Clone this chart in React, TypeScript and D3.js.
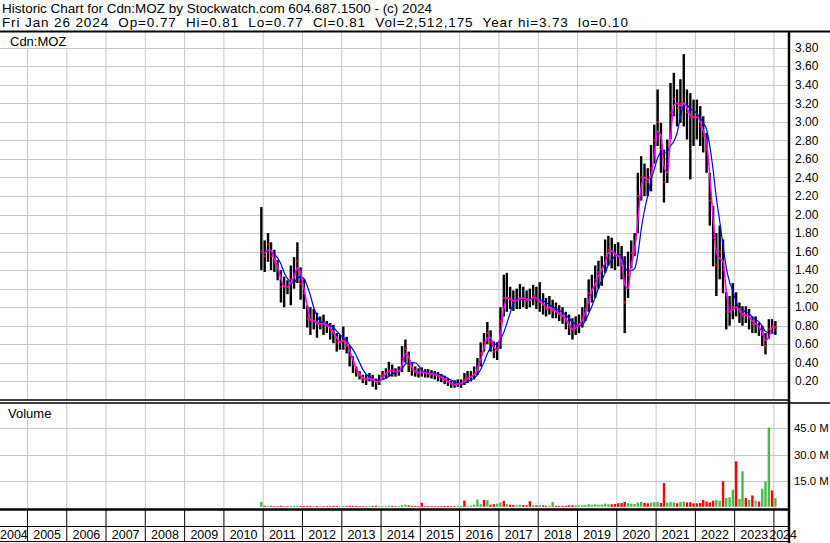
import React from "react";
import * as d3 from "d3";

// ---- data (monthly, Dec 2010 .. Jan 2024) ----
const startYear = 2010;
const startMonth = 11; // December

const highs = [
  2.08,
  1.72, 1.80, 1.70, 1.62, 1.51, 1.40, 1.33, 1.29, 1.45, 1.54, 1.70, 1.43,
  1.30, 1.02, 1.00, 0.98, 0.94, 0.90, 0.92, 0.85, 0.83, 0.81, 0.72, 0.70,
  0.79, 0.68, 0.58, 0.47, 0.36, 0.31, 0.27, 0.27, 0.29, 0.27, 0.23, 0.27,
  0.31, 0.34, 0.41, 0.38, 0.34, 0.36, 0.58, 0.65, 0.52, 0.40, 0.36, 0.34,
  0.35, 0.33, 0.33, 0.32, 0.31, 0.30, 0.28, 0.26, 0.23, 0.21, 0.21, 0.22,
  0.22, 0.29, 0.31, 0.31, 0.36, 0.45, 0.62, 0.72, 0.84, 0.75, 0.63, 0.62,
  1.00, 1.35, 1.37, 1.22, 1.18, 1.20, 1.25, 1.22, 1.18, 1.20, 1.24, 1.22,
  1.27, 1.15, 1.10, 1.12, 1.08, 1.05, 1.02, 1.00, 0.95, 0.92, 0.88, 0.90,
  0.92, 1.00, 1.10, 1.30, 1.35, 1.45, 1.50, 1.55, 1.73, 1.77, 1.75, 1.68,
  1.70, 1.66, 1.55, 1.60, 1.72, 1.80, 2.45, 2.63, 2.55, 2.50, 2.75, 2.97,
  3.35, 2.99, 2.70, 2.81, 3.42, 3.53, 3.35, 3.46, 3.73, 3.35, 3.31, 3.24,
  3.24, 3.17, 3.06, 2.88, 2.45, 2.09, 1.80, 1.88, 1.73, 1.16, 1.12, 1.26,
  1.16, 1.05, 1.01, 1.01, 0.98, 0.90, 0.90, 0.83, 0.80, 0.72, 0.87, 0.87,
  0.85,
];

const lows = [
  1.40,
  1.38, 1.49, 1.40, 1.38, 1.29, 1.05, 1.00, 1.14, 1.02, 1.20, 1.26, 1.08,
  0.98, 0.78, 0.70, 0.76, 0.67, 0.76, 0.70, 0.72, 0.65, 0.61, 0.52, 0.54,
  0.54, 0.50, 0.36, 0.29, 0.25, 0.22, 0.18, 0.16, 0.20, 0.14, 0.11, 0.16,
  0.22, 0.23, 0.25, 0.25, 0.25, 0.26, 0.30, 0.40, 0.30, 0.26, 0.25, 0.24,
  0.25, 0.24, 0.24, 0.23, 0.22, 0.20, 0.19, 0.17, 0.15, 0.13, 0.13, 0.14,
  0.13, 0.16, 0.18, 0.20, 0.22, 0.27, 0.36, 0.52, 0.60, 0.52, 0.45, 0.43,
  0.55, 0.90, 0.95, 0.98, 0.96, 0.98, 0.98, 1.00, 0.98, 1.00, 1.02, 0.98,
  0.95, 0.92, 0.90, 0.92, 0.88, 0.88, 0.85, 0.82, 0.76, 0.70, 0.65, 0.70,
  0.72, 0.78, 0.85, 0.95, 1.05, 1.10, 1.20, 1.23, 1.37, 1.45, 1.42, 1.40,
  1.44, 1.30, 0.72, 1.10, 1.42, 1.55, 1.80, 2.15, 2.20, 2.20, 2.25, 2.55,
  2.74, 2.45, 2.13, 2.34, 2.81, 3.06, 2.95, 2.99, 2.95, 2.81, 2.38, 2.74,
  2.81, 2.74, 2.67, 2.45, 1.88, 1.44, 1.12, 1.30, 1.15, 0.76, 0.80, 0.87,
  0.90, 0.83, 0.80, 0.83, 0.76, 0.72, 0.72, 0.69, 0.58, 0.49, 0.66, 0.72,
  0.70,
];

const closes = [
  1.60,
  1.55, 1.68, 1.55, 1.48, 1.40, 1.22, 1.22, 1.22, 1.30, 1.35, 1.50, 1.25,
  1.15, 0.88, 0.85, 0.85, 0.82, 0.82, 0.82, 0.80, 0.75, 0.72, 0.62, 0.62,
  0.65, 0.58, 0.48, 0.38, 0.30, 0.26, 0.22, 0.22, 0.24, 0.21, 0.18, 0.21,
  0.27, 0.29, 0.32, 0.31, 0.30, 0.31, 0.45, 0.55, 0.38, 0.32, 0.30, 0.29,
  0.30, 0.29, 0.28, 0.28, 0.27, 0.25, 0.24, 0.21, 0.19, 0.17, 0.16, 0.18,
  0.17, 0.22, 0.24, 0.25, 0.29, 0.36, 0.50, 0.62, 0.72, 0.62, 0.52, 0.55,
  0.85, 1.10, 1.10, 1.08, 1.06, 1.08, 1.10, 1.10, 1.07, 1.08, 1.12, 1.08,
  1.05, 1.02, 0.98, 1.00, 0.96, 0.95, 0.92, 0.90, 0.85, 0.78, 0.75, 0.80,
  0.82, 0.90, 0.98, 1.15, 1.20, 1.30, 1.38, 1.42, 1.55, 1.62, 1.60, 1.55,
  1.55, 1.45, 1.05, 1.35, 1.58, 1.65, 2.20, 2.40, 2.40, 2.35, 2.50, 2.80,
  3.00, 2.70, 2.35, 2.55, 3.10, 3.25, 3.15, 3.20, 3.20, 3.10, 3.05, 3.05,
  3.05, 2.95, 2.85, 2.70, 2.15, 1.75, 1.45, 1.60, 1.40, 0.95, 0.95, 1.00,
  1.00, 0.95, 0.90, 0.92, 0.88, 0.82, 0.82, 0.76, 0.70, 0.58, 0.76, 0.80,
  0.78,
];

// volume in millions
const volumes = [
  2.9,
  0.6, 0.5, 0.5, 0.4, 0.4, 0.6, 0.4, 0.4, 0.6, 0.6, 0.7, 0.5,
  0.5, 0.6, 0.5, 0.4, 0.5, 0.4, 0.4, 0.4, 0.4, 0.5, 0.5, 0.4,
  0.5, 0.5, 0.6, 0.6, 0.5, 0.4, 0.4, 0.5, 0.4, 0.5, 0.6, 0.4,
  0.4, 0.4, 0.7, 0.5, 0.4, 0.5, 1.0, 1.2, 0.8, 0.5, 0.4, 0.4,
  2.3, 0.4, 0.4, 0.5, 0.4, 0.4, 0.4, 0.5, 0.5, 0.4, 0.4, 0.5,
  0.6, 3.6, 0.6, 0.7, 1.2, 4.2, 1.5, 4.0, 3.8, 1.2, 1.5, 1.8,
  2.5, 3.4, 1.5, 1.2, 1.0, 0.8, 1.2, 1.0, 0.8, 3.2, 1.0, 0.8,
  1.0, 0.8, 0.6, 0.7, 2.7, 0.6, 0.5, 0.5, 0.6, 0.8, 0.9, 0.8,
  0.8, 0.9, 1.0, 1.5, 1.2, 1.4, 1.2, 1.3, 1.8, 1.5, 1.4, 1.6,
  2.0, 2.2, 2.8, 2.0, 1.8, 1.6, 2.5, 2.8, 2.2, 2.0, 2.4, 2.6,
  2.8, 2.2, 13.6, 2.4, 2.8, 2.5, 2.0, 2.8, 3.0, 2.5, 2.6, 2.0,
  2.0, 2.2, 4.0, 3.0, 2.5, 3.5, 4.0, 3.5, 14.6, 5.0, 5.5, 9.8,
  26.1, 4.5, 20.4, 5.0, 4.0, 6.5, 3.6, 3.0, 10.4, 14.6, 45.6, 9.4,
  5.0,
];

// 1 = up (green), -1 = down (red), 0 = unchanged (grey)
const volDir = [
  1,
  -1, 1, -1, -1, -1, -1, 1, -1, 1, 1, 1, -1,
  -1, -1, -1, 1, -1, 1, -1, -1, -1, -1, -1, 1,
  1, -1, -1, -1, -1, -1, -1, 1, 1, -1, -1, 1,
  1, 1, 1, -1, -1, 1, 1, 1, -1, -1, -1, -1,
  -1, -1, -1, -1, -1, -1, -1, -1, -1, -1, -1, 1,
  1, -1, 1, 1, 1, 1, 1, -1, 1, -1, -1, 1,
  1, -1, 1, -1, -1, 1, 1, -1, -1, -1, 1, -1,
  1, -1, -1, 1, 1, -1, -1, -1, -1, -1, -1, 1,
  1, 1, 1, 1, 1, 1, 1, 1, 1, 1, -1, -1,
  -1, -1, -1, 1, 1, 1, 1, 1, -1, -1, 1, 1,
  1, -1, -1, 1, 1, 1, -1, 1, 1, -1, -1, -1,
  -1, -1, -1, -1, -1, -1, 1, 1, -1, 1, 1, 1,
  -1, 1, 1, -1, 1, -1, 0, -1, 1, 1, 1, -1,
  1,
];

const priceTicks = [3.8, 3.6, 3.4, 3.2, 3.0, 2.8, 2.6, 2.4, 2.2, 2.0, 1.8, 1.6, 1.4, 1.2, 1.0, 0.8, 0.6, 0.4, 0.2];
const volTicks = [15, 30, 45];
const yearLabels = [2004, 2005, 2006, 2007, 2008, 2009, 2010, 2011, 2012, 2013, 2014, 2015, 2016, 2017, 2018, 2019, 2020, 2021, 2022, 2023, 2024];

const headerLine1 = "Historic Chart for Cdn:MOZ by Stockwatch.com 604.687.1500 - (c) 2024";
const headerLine2 = "Fri Jan 26 2024  Op=0.77  Hi=0.81  Lo=0.77  Cl=0.81  Vol=2,512,175  Year hi=3.73  lo=0.10";
const symbol = "Cdn:MOZ";

// ---- layout ----
const W = 830;
const H = 543;
const PLOT_R = 789;
const P_TOP = 32;
const P_BOT = 400;
const V_TOP = 403;
const V_BOT = 509.5;
const FONT = "'Liberation Sans', Arial, sans-serif";
const YEAR_LABEL_W = 27.8;

export default function App() {
  const x = d3
    .scaleTime()
    .domain([new Date(2005, 0, 1), new Date(2024, 0, 1)])
    .range([27.5, 773.9]);
  const y = d3.scaleLinear().domain([0, 3.97]).range([399.8, 32]);
  const yv = d3.scaleLinear().domain([0, 15]).range([506.8, 480.7]);

  const bars = highs.map((h, i) => {
    const date = new Date(startYear, startMonth + i, 15);
    return { date, h, l: lows[i], c: closes[i], v: volumes[i], d: volDir[i], i };
  });

  const ma = (n: number) =>
    bars
      .filter((b) => b.i >= n - 1)
      .map((b) => ({
        date: b.date,
        v: d3.mean(closes.slice(b.i - n + 1, b.i + 1)) as number,
      }));
  const maShort = ma(2);
  const maLong = ma(5);
  const line = d3
    .line<{ date: Date; v: number }>()
    .x((d) => x(d.date))
    .y((d) => y(d.v))
    .curve(d3.curveMonotoneX);

  const yearDates = yearLabels.map((yr) => new Date(yr, 0, 1));
  const volColor = (d: number) => (d > 0 ? "#4cb848" : d < 0 ? "#ff0000" : "#a0a0a0");

  return (
    <svg width={W} height={H} style={{ display: "block", position: "absolute", left: 0, top: 0 }} fontFamily={FONT}>
      <rect x={0} y={0} width={W} height={H} fill="#fff" />
      {/* header */}
      <text x={2} y={13} fontSize={13.5} fill="#000" textLength={430} lengthAdjust="spacingAndGlyphs">{headerLine1}</text>
      <text x={2} y={27} fontSize={13.5} fill="#000" xmlSpace="preserve" textLength={626} lengthAdjust="spacing">{headerLine2}</text>

      {/* price grid */}
      {priceTicks.map((t) => (
        <line key={"pg" + t} x1={0} x2={PLOT_R} y1={Math.round(y(t)) + 0.5} y2={Math.round(y(t)) + 0.5} stroke="#c8c8c8" />
      ))}
      {yearDates.map((d, i) => {
        const xx = x(d);
        if (xx < 1 || xx > PLOT_R) return null;
        return <line key={"vg" + i} x1={xx} x2={xx} y1={P_TOP} y2={P_BOT} stroke="#c8c8c8" />;
      })}
      {/* volume grid */}
      {volTicks.map((t) => (
        <line key={"vvg" + t} x1={0} x2={PLOT_R} y1={Math.round(yv(t)) + 0.5} y2={Math.round(yv(t)) + 0.5} stroke="#c8c8c8" />
      ))}
      {yearDates.map((d, i) => {
        const xx = x(d);
        if (xx < 1 || xx > PLOT_R) return null;
        return <line key={"vvl" + i} x1={xx} x2={xx} y1={V_TOP} y2={V_BOT} stroke="#c8c8c8" />;
      })}

      {/* labels with white boxes */}
      <rect x={2} y={P_TOP + 1} width={65} height={15} fill="#fff" />
      <text x={10} y={46} fontSize={13} fill="#000">{symbol}</text>
      <rect x={2} y={V_TOP + 1} width={55} height={16} fill="#fff" />
      <text x={8} y={418} fontSize={13} fill="#000">Volume</text>

      {/* price bars */}
      {bars.map((b) => (
        <rect key={"b" + b.i} x={x(b.date) - 1.2} width={2.4} y={y(b.h)} height={Math.max(1, y(b.l) - y(b.h))} fill="#000" />
      ))}
      {bars.map((b) => (
        <rect key={"c" + b.i} x={x(b.date) - 0.5} width={2} y={y(b.c) - 1} height={2} fill="#ff0000" />
      ))}
      <path d={line(maLong) || ""} fill="none" stroke="#0000ff" strokeWidth={1.2} />
      <path d={line(maShort) || ""} fill="none" stroke="#ff00ff" strokeWidth={1.5} />

      {/* volume bars */}
      {bars.map((b) => (
        <rect key={"v" + b.i} x={x(b.date) - 1.2} width={2.4} y={yv(b.v)} height={Math.max(0.5, yv(0) - yv(b.v))} fill={volColor(b.d)} />
      ))}

      {/* right axis labels */}
      {priceTicks.map((t) => (
        <text key={"pl" + t} x={795} y={y(t)} dy="0.35em" fontSize={12} fill="#000">{t.toFixed(2)}</text>
      ))}
      {volTicks.map((t) => (
        <text key={"vl" + t} x={794} y={yv(t)} dy="0.35em" fontSize={11.4} fill="#000">{t.toFixed(1) + " M"}</text>
      ))}

      {/* x axis area */}
      {yearDates.map((d, i) => {
        const xx = x(d);
        const next = x(new Date(yearLabels[i] + 1, 0, 1));
        const center = (xx + next) / 2;
        const lx = Math.min(Math.max(0, center - YEAR_LABEL_W / 2), 797 - YEAR_LABEL_W);
        return (
          <g key={"xl" + i}>
            {xx > 1 && xx < PLOT_R && <line x1={xx} x2={xx} y1={V_BOT} y2={541.5} stroke="#000" />}
            <text x={lx} y={539} fontSize={12.5} fill="#000">{yearLabels[i]}</text>
          </g>
        );
      })}
      <line x1={0} x2={PLOT_R} y1={526.5} y2={526.5} stroke="#000" />
      <line x1={0} x2={PLOT_R} y1={541.5} y2={541.5} stroke="#000" />

      {/* panel borders */}
      <line x1={0} x2={W} y1={31.5} y2={31.5} stroke="#000" strokeWidth={2} />
      <line x1={0} x2={PLOT_R} y1={400} y2={400} stroke="#000" strokeWidth={1.5} />
      <line x1={0} x2={W} y1={403} y2={403} stroke="#000" strokeWidth={1.5} />
      <line x1={0} x2={PLOT_R} y1={509.5} y2={509.5} stroke="#000" strokeWidth={2.5} />
      <line x1={PLOT_R} x2={PLOT_R} y1={31} y2={H} stroke="#000" strokeWidth={2.5} />
    </svg>
  );
}
